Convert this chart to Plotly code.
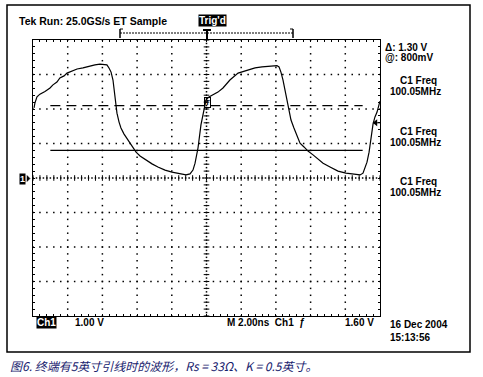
import numpy as np
import plotly.graph_objects as go

# ---- data (time in ns, voltage in V; 2 ns/div, 1 V/div) ----
t_ns = [-9.94, -9.89, -9.77, -9.60, -9.31, -9.02, -8.85, -8.62, -8.45, -8.21, -8.04, -7.75,
        -7.46, -7.12, -6.72, -6.43, -6.14, -5.91, -5.74, -5.62, -5.50, -5.39, -5.33, -5.27,
        -5.22, -5.16, -5.04, -4.93, -4.76, -4.52, -4.29, -4.06, -3.83, -3.49, -3.14, -2.80,
        -2.39, -1.99, -1.53, -1.18, -0.95, -0.78, -0.66, -0.49, -0.32, -0.14, -0.03, 0.14,
        0.37, 0.66, 0.95, 1.35, 1.82, 2.33, 2.80, 3.20, 3.66, 4.06, 4.18, 4.29, 4.41, 4.52,
        4.64, 4.76, 4.87, 5.04, 5.22, 5.39, 5.62, 5.85, 6.14, 6.43, 6.72, 7.12, 7.58, 8.04,
        8.50, 8.85, 9.02, 9.14, 9.25, 9.37, 9.48, 9.60, 9.71, 9.83, 9.94, 10.0]
volts = [2.03, 2.17, 2.35, 2.43, 2.51, 2.61, 2.70, 2.78, 2.90, 2.96, 3.04, 3.10,
         3.16, 3.19, 3.25, 3.28, 3.30, 3.29, 3.28, 3.19, 3.07, 2.84, 2.61, 2.38,
         2.12, 1.88, 1.62, 1.45, 1.28, 1.10, 0.93, 0.75, 0.64, 0.52, 0.41, 0.32,
         0.23, 0.17, 0.12, 0.09, 0.12, 0.23, 0.43, 0.87, 1.54, 2.03, 2.26, 2.35,
         2.41, 2.49, 2.61, 2.84, 3.04, 3.13, 3.19, 3.22, 3.25, 3.26, 3.22, 3.07, 2.84, 2.55,
         2.26, 1.97, 1.68, 1.45, 1.22, 1.01, 0.90, 0.78, 0.67, 0.55, 0.43, 0.32, 0.20, 0.14,
         0.12, 0.09, 0.14, 0.29, 0.46, 0.75, 1.16, 1.57, 1.77, 1.91, 2.12, 2.23]

cursor_a = 0.8      # @: 800mV
cursor_delta = 1.30 # Δ: 1.30 V
cursor_span = [-9.0, 9.0]
trigger_level = 1.60
trigger_point = [0.0, 2.2]

x_divs = [-10, -8, -6, -4, -2, 0, 2, 4, 6, 8, 10]
y_divs = [-4, -3, -2, -1, 0, 1, 2, 3, 4]

header_text = "Tek Run: 25.0GS/s ET Sample"
trig_text = "Trig'd"
right_texts = ["Δ: 1.30 V", "@: 800mV"]
freq_label = "C1 Freq"
freq_value = "100.05MHz"
bottom_ch = "Ch1"
bottom_scale = "1.00 V"
bottom_time = "M 2.00ns  Ch1  ƒ"
bottom_level = "1.60 V"
date_text = "16 Dec 2004"
time_text = "15:13:56"
caption = "图6. 终端有5英寸引线时的波形，Rs = 33Ω、K = 0.5英寸。"

# ---- layout geometry (pixels) ----
W, H = 483, 377
L, R, T, B = 33, 380, 40, 316
def px(x):
    return (x - L) / (R - L)
def py(y):
    return (B - y) / (B - T)

fig = go.Figure()

dot = dict(symbol="square", size=1.5, color="black", line_width=0)
# grid dots
gx, gy = [], []
for xv in x_divs[1:-1]:
    if xv == 0:
        continue
    ys = np.arange(-4, 4.001, 0.2)
    gx += [xv] * len(ys); gy += list(ys)
for yv in y_divs[1:-1]:
    if yv == 0:
        continue
    xs = np.arange(-10, 10.001, 0.4)
    gx += list(xs); gy += [yv] * len(xs)
fig.add_trace(go.Scatter(x=gx, y=gy, mode="markers", hoverinfo="skip", marker=dot))
# centre lines: dots + cross ticks
cx = list(np.arange(-10, 10.001, 0.2))
fig.add_trace(go.Scatter(x=cx, y=[0] * len(cx), mode="markers", hoverinfo="skip", marker=dot))
cyv = list(np.arange(-4, 4.001, 0.1))
fig.add_trace(go.Scatter(x=[0] * len(cyv), y=cyv, mode="markers", hoverinfo="skip", marker=dot))
tk = list(np.arange(-10, 10.001, 0.4))
fig.add_trace(go.Scatter(x=tk, y=[0] * len(tk), mode="markers", hoverinfo="skip",
                         marker=dict(symbol="line-ns", size=4, line=dict(color="black", width=1))))
tk2 = list(np.arange(-4, 4.001, 0.2))
fig.add_trace(go.Scatter(x=[0] * len(tk2), y=tk2, mode="markers", hoverinfo="skip",
                         marker=dict(symbol="line-ew", size=4, line=dict(color="black", width=1))))

# cursors
fig.add_trace(go.Scatter(x=cursor_span, y=[cursor_a + cursor_delta] * 2, mode="lines",
                         line=dict(color="black", width=1.2, dash="10px,6px"), hoverinfo="skip"))
fig.add_trace(go.Scatter(x=cursor_span, y=[cursor_a] * 2, mode="lines",
                         line=dict(color="black", width=1.2), hoverinfo="skip"))

# waveform
fig.add_trace(go.Scatter(x=t_ns, y=volts, mode="lines",
                         line=dict(color="black", width=1.2), hoverinfo="skip"))

# trigger level arrow at right edge
fig.add_trace(go.Scatter(x=[9.75], y=[trigger_level], mode="markers", hoverinfo="skip",
                         marker=dict(symbol="triangle-left", size=6, color="black")))

fig.update_layout(
    width=W, height=H, showlegend=False,
    margin=dict(l=L, r=W - R, t=T, b=H - B, pad=0),
    paper_bgcolor="white", plot_bgcolor="white",
    xaxis=dict(range=[-10, 10], showgrid=False, zeroline=False, showline=True,
               linecolor="black", linewidth=1, mirror="allticks", ticks="inside",
               ticklen=2, tickwidth=1, tickcolor="black", tick0=0, dtick=0.4,
               showticklabels=False, fixedrange=True),
    yaxis=dict(range=[-4, 4], showgrid=False, zeroline=False, showline=True,
               linecolor="black", linewidth=1, mirror="allticks", ticks="inside",
               ticklen=2, tickwidth=1, tickcolor="black", tick0=0, dtick=0.2,
               showticklabels=False, fixedrange=True),
)

shapes = []
# outer frame
shapes.append(dict(type="rect", xref="paper", yref="paper", x0=px(7), x1=px(470),
                   y0=py(352), y1=py(5), line=dict(color="black", width=1.5)))
# top bracket
shapes.append(dict(type="line", xref="paper", yref="paper", x0=px(120), x1=px(293),
                   y0=py(33), y1=py(33), line=dict(color="black", width=1, dash="2px,1px")))
for bx, d in [(120, 3), (293, -3)]:
    shapes.append(dict(type="line", xref="paper", yref="paper", x0=px(bx), x1=px(bx),
                       y0=py(29), y1=py(38), line=dict(color="black", width=1.5)))
    shapes.append(dict(type="line", xref="paper", yref="paper", x0=px(bx), x1=px(bx + d),
                       y0=py(29), y1=py(29), line=dict(color="black", width=1)))
# T marker above graticule
shapes.append(dict(type="line", xref="paper", yref="paper", x0=px(203), x1=px(211),
                   y0=py(30), y1=py(30), line=dict(color="black", width=2)))
shapes.append(dict(type="line", xref="paper", yref="paper", x0=px(207), x1=px(207),
                   y0=py(30), y1=py(40), line=dict(color="black", width=2)))
# trigger level tick at right
shapes.append(dict(type="line", xref="x", yref="y", x0=9.6, x1=10.0,
                   y0=trigger_level, y1=trigger_level, line=dict(color="black", width=1)))
# ground marker triangle
shapes.append(dict(type="path", xref="paper", yref="paper",
                   path=f"M {px(27)},{py(175.5)} L {px(30)},{py(178.5)} L {px(27)},{py(181.5)} Z",
                   fillcolor="black", line=dict(color="black", width=0.5)))
fig.update_layout(shapes=shapes)

osc = "Liberation Sans"
def ann(text, x, y, size=10, color="black", bg=None, xanchor="left", bold=True, family=osc, border=None):
    a = dict(text=(f"<b>{text}</b>" if bold else text), xref="paper", yref="paper",
             x=px(x), y=py(y), xanchor=xanchor, yanchor="middle", showarrow=False,
             font=dict(family=family, size=size, color=color))
    if bg:
        a["bgcolor"] = bg
        a["borderpad"] = 0
    if border:
        a["bordercolor"] = border
        a["borderwidth"] = 1
        a["borderpad"] = 0
    return a

anns = [
    ann(header_text, 17, 21, size=10.5),
    ann(trig_text, 198, 21, size=10, color="white", bg="black"),
    ann(right_texts[0], 383, 47),
    ann(right_texts[1], 383, 58),
]
for yy in [80, 131, 181]:
    anns.append(ann(freq_label, 418, yy, xanchor="center"))
    anns.append(ann(freq_value, 415, yy + 11, xanchor="center"))
anns += [
    ann(bottom_ch, 36, 322, size=10, color="white", bg="black"),
    ann(bottom_scale, 73, 322),
    ann(bottom_time, 225, 322),
    ann(bottom_level, 343, 322),
    ann(date_text, 388, 324),
    ann(time_text, 388, 337),
    ann("1", 19, 178.5, size=9, color="white", bg="black"),
    ann("T", 207, 102, size=8, color="black", xanchor="center", border="black"),
    ann(f"<i>{caption}</i>", 8, 365, size=12, color="#18226e", bold=False,
        family="Noto Sans CJK SC"),
]
fig.update_layout(annotations=anns)

fig.write_html("out.html")
